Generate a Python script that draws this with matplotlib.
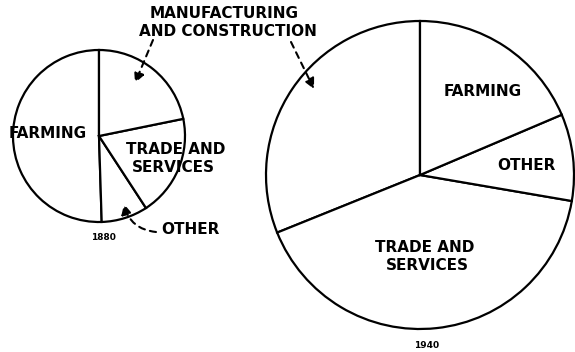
import matplotlib
matplotlib.use("Agg")
import matplotlib.pyplot as plt
from matplotlib.patches import FancyArrowPatch

# Data (shares of labor force)
sectors_1880 = ["FARMING", "OTHER", "TRADE AND\nSERVICES", "MANUFACTURING\nAND CONSTRUCTION"]
values_1880 = [50.5, 8.7, 19.0, 21.8]
sectors_1940 = ["MANUFACTURING\nAND CONSTRUCTION", "TRADE AND\nSERVICES", "OTHER", "FARMING"]
values_1940 = [31.1, 41.2, 9.1, 18.6]
years = ["1880", "1940"]

W, H = 575, 352
fig = plt.figure(figsize=(W / 100, H / 100), dpi=100)
ax = fig.add_axes([0, 0, 1, 1])

def Y(y):
    return H - y

wp = dict(edgecolor="black", facecolor="white", linewidth=1.6)
ax.pie(values_1880, center=(99, Y(136)), radius=86, startangle=90,
       counterclock=True, wedgeprops=wp, frame=True)
ax.pie(values_1940, center=(420, Y(175)), radius=154, startangle=90,
       counterclock=True, wedgeprops=wp, frame=True)

ax.set_xlim(0, W)
ax.set_ylim(0, H)
ax.set_aspect("equal")
ax.axis("off")

fk = dict(fontfamily="DejaVu Sans", fontweight="heavy", color="black",
          ha="center", va="center")
big = 11

# Titles / labels
ax.text(224, Y(13), "MANUFACTURING", fontsize=big, **fk)
ax.text(228, Y(31), "AND CONSTRUCTION", fontsize=big, **fk)

ax.text(48, Y(133), sectors_1880[0], fontsize=big, **fk)
ax.text(176, Y(150), "TRADE AND", fontsize=big, **fk)
ax.text(173, Y(168), "SERVICES", fontsize=big, **fk)
ax.text(190, Y(230), sectors_1880[1], fontsize=big, **fk)
ax.text(103, Y(237), years[0], fontsize=6.5, **fk)

ax.text(483, Y(92), sectors_1940[3], fontsize=big, **fk)
ax.text(526, Y(165), sectors_1940[2], fontsize=big, **fk)
ax.text(425, Y(247), "TRADE AND", fontsize=big, **fk)
ax.text(427, Y(265), "SERVICES", fontsize=big, **fk)
ax.text(427, Y(345), years[1], fontsize=6.5, **fk)

# Dashed arrows
def arrow(p0, p1, rad=0.0):
    a = FancyArrowPatch((p0[0], Y(p0[1])), (p1[0], Y(p1[1])),
                        connectionstyle=f"arc3,rad={rad}",
                        arrowstyle="-|>,head_length=6,head_width=3",
                        linestyle=(0, (3, 2.5)), linewidth=1.5,
                        color="black", mutation_scale=1, shrinkA=0, shrinkB=0)
    ax.add_patch(a)

arrow((153, 40), (135, 83))
arrow((291, 42), (314, 89))
arrow((156, 232), (124, 204), rad=-0.35)

fig.savefig("out.png", dpi=100)
